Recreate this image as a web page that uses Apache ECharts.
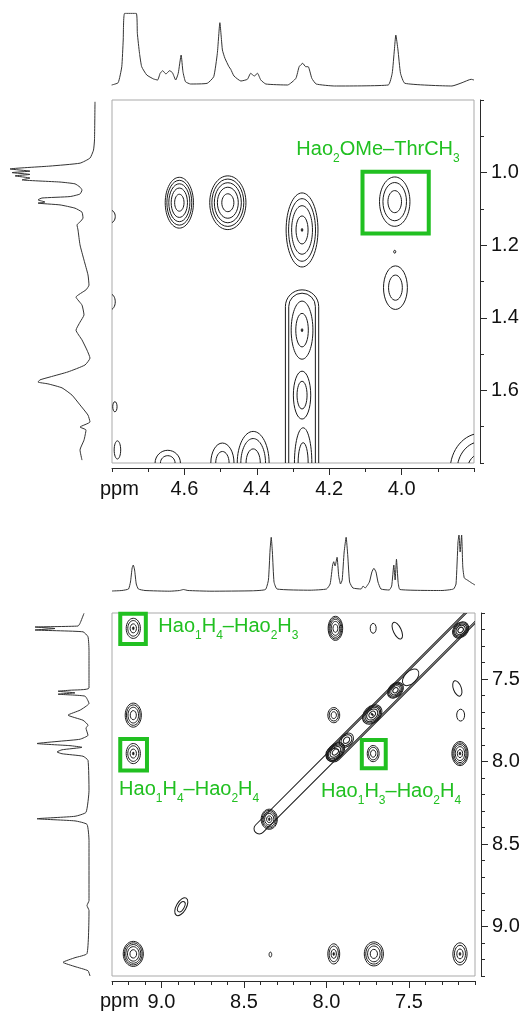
<!DOCTYPE html>
<html><head><meta charset="utf-8">
<script src="https://cdn.jsdelivr.net/npm/echarts@6/dist/echarts.min.js"></script>
<style>html,body{margin:0;padding:0;background:#fff}#c{width:524px;height:1012px}</style>
</head><body><div id="c"></div>
<script>
// ================= DATA =================
// Panel A (upper): F2 (x) 4.8 -> 3.8 ppm, F1 (y) 0.8 -> 1.8 ppm
const topXRange = [3.8, 4.8];
const topYRange = [0.8, 1.8];
const topXTickLabels = [4.0, 4.2, 4.4, 4.6];
const topYTickLabels = [1.0, 1.2, 1.4, 1.6];
// Panel B (lower): both axes 7.1 -> 9.3 ppm
const botRange = [7.1, 9.3];
const botTickLabels = [7.5, 8.0, 8.5, 9.0];

// 1D projections: [ppm, intensity]
const topProjF2 = [[4.801,3],[4.783,5.3],[4.773,21.3],[4.769,48],[4.765,74.7],[4.733,74.7],[4.730,54.7],[4.724,34.7],[4.718,21.3],[4.704,13],[4.685,9],[4.674,8],[4.667,14.7],[4.660,17.3],[4.651,14],[4.641,17.3],[4.633,15.3],[4.624,8],[4.617,14.7],[4.609,33],[4.604,16.3],[4.597,6.3],[4.583,4],[4.537,4.7],[4.519,11.3],[4.509,34.7],[4.502,65.3],[4.495,38],[4.488,29.7],[4.477,21.3],[4.472,18.7],[4.463,12],[4.444,7],[4.426,8.7],[4.417,14.7],[4.407,12],[4.398,14.7],[4.389,8],[4.375,4],[4.315,3],[4.292,9.7],[4.283,21.3],[4.273,24.7],[4.265,21.3],[4.258,21.3],[4.248,9.7],[4.236,4],[4.185,2],[4.037,3],[4.026,14.7],[4.020,38],[4.016,53],[4.010,38],[4.003,14.7],[3.991,4.7],[3.861,2],[3.833,5.3],[3.808,8.7],[3.800,8]];
const topProjF1 = [[0.805,1],[0.910,1.5],[0.938,2.5],[0.960,6],[0.974,16],[0.982,46],[0.990,86],[0.996,66],[1.000,84],[1.005,66],[1.009,81],[1.015,66],[1.020,74],[1.026,36],[1.031,21],[1.040,16],[1.048,14],[1.059,16],[1.066,26],[1.070,54],[1.075,58],[1.081,51],[1.084,58],[1.089,36],[1.098,21],[1.109,14],[1.125,13],[1.136,16],[1.144,19],[1.158,18],[1.199,16],[1.241,12],[1.282,8],[1.310,7],[1.323,10],[1.343,20],[1.365,14],[1.392,12],[1.412,16],[1.434,20],[1.461,14],[1.489,9],[1.511,6],[1.530,11],[1.549,28],[1.563,46],[1.571,56],[1.577,58],[1.582,48],[1.593,34],[1.613,24],[1.640,16],[1.668,8],[1.687,6],[1.701,16],[1.709,10],[1.737,12],[1.764,16],[1.792,14]];
const botProjF2 = [[9.30,1],[9.24,1.5],[9.20,3],[9.188,10],[9.178,24],[9.171,27],[9.163,22],[9.153,8],[9.14,3],[9.10,1.5],[8.95,0.8],[8.89,1.5],[8.867,2.5],[8.84,1.5],[8.70,0.8],[8.45,1.2],[8.37,2.5],[8.352,12],[8.342,42],[8.335,54.7],[8.328,40],[8.318,10],[8.30,3],[8.10,1.8],[8.00,3],[7.978,8],[7.963,27],[7.956,30.3],[7.948,26],[7.936,34.7],[7.926,16],[7.915,8],[7.905,12],[7.893,40],[7.881,54.7],[7.871,36],[7.86,10],[7.84,4],[7.79,3],[7.778,6],[7.766,4],[7.74,10],[7.725,20],[7.713,23.7],[7.70,20],[7.688,10],[7.67,3],[7.62,2],[7.605,6],[7.592,27],[7.584,12],[7.576,32.7],[7.566,10],[7.555,2.5],[7.30,1.5],[7.23,3],[7.215,8],[7.203,50],[7.197,57],[7.190,40],[7.181,57],[7.174,25],[7.165,14],[7.147,12],[7.12,9],[7.10,7]];
const botProjF1 = [[7.102,8],[7.163,12],[7.179,14],[7.185,57],[7.194,37],[7.203,57],[7.214,9],[7.244,4],[7.325,3],[7.555,3],[7.568,22],[7.574,34],[7.584,17],[7.592,34],[7.604,7],[7.648,3],[7.689,12],[7.719,24],[7.750,9],[7.780,4],[7.798,6],[7.841,4],[7.865,12],[7.877,32],[7.891,55],[7.904,22],[7.914,10],[7.929,30],[7.942,35],[7.953,30],[7.968,9],[7.993,4],[8.175,3],[8.308,6],[8.332,17],[8.347,55],[8.360,17],[8.381,5],[8.478,3],[8.843,3],[8.873,5],[8.903,3],[9.164,5],[9.189,17],[9.217,29],[9.243,17],[9.268,4],[9.300,2]];

// Cross peaks: [x ppm, y ppm, half-width x ppm, half-width y ppm, contour levels, tilt deg, centre dot]
const topPeaks = [
  [4.614,1.083,0.039,0.070,5,0,0],
  [4.480,1.083,0.050,0.074,5,0,0],
  [4.275,1.158,0.044,0.102,4,0,1],
  [4.019,1.080,0.042,0.068,3,0,0],
  [4.019,1.218,0.003,0.004,1,0,0],
  [4.017,1.317,0.033,0.060,2,0,0],
  [4.805,1.121,0.014,0.018,1,0,0],
  [4.805,1.356,0.014,0.022,1,0,0],
  [4.792,1.645,0.006,0.014,1,0,0],
  [4.785,1.764,0.009,0.025,1,0,0],
  [4.275,1.434,0.030,0.080,2,0,1],
  [4.275,1.613,0.024,0.066,2,0,0],
  [4.272,1.800,0.024,0.097,2,0,0],
  [4.646,1.800,0.035,0.035,2,0,0],
  [4.495,1.800,0.032,0.055,2,0,0],
  [4.410,1.800,0.044,0.087,3,0,0],
  [3.780,1.820,0.086,0.102,3,0,0]
];
// Elongated ridges: [x1, y1, x2, y2, half-width ppm, levels]
const topRidges = [[4.275,1.323,4.275,1.90,0.046,2]];

const botPeaks = [
  [9.171,7.193,0.043,0.061,3,0,1],
  [9.171,7.719,0.049,0.073,4,0,0],
  [9.171,7.952,0.043,0.061,3,0,1],
  [9.171,9.166,0.061,0.076,5,0,0],
  [7.946,7.193,0.044,0.073,5,0,0],
  [7.717,7.193,0.018,0.030,1,0,0],
  [7.571,7.207,0.024,0.055,1,25,0],
  [7.207,7.557,0.024,0.049,1,20,0],
  [7.187,7.719,0.024,0.036,1,0,0],
  [7.191,7.952,0.049,0.073,5,0,1],
  [7.956,7.719,0.036,0.046,3,0,0],
  [7.717,7.952,0.036,0.049,3,0,0],
  [7.956,9.166,0.036,0.061,3,0,1],
  [7.713,9.166,0.058,0.073,4,0,0],
  [7.191,9.166,0.043,0.067,3,0,1],
  [8.340,9.170,0.008,0.015,1,0,0],
  [8.880,8.880,0.030,0.060,2,-30,0],
  [8.347,8.350,0.049,0.061,5,0,1],
  [7.946,7.942,0.067,0.043,5,45,0],
  [7.879,7.871,0.049,0.036,3,45,0],
  [7.723,7.715,0.067,0.049,5,45,1],
  [7.582,7.568,0.055,0.040,5,45,0],
  [7.490,7.490,0.061,0.036,1,45,0],
  [7.187,7.203,0.055,0.043,5,45,0]
];
const botRidges = [
  [8.43,8.43,7.93,7.93,0.032,1],
  [7.99,7.99,6.98,6.98,0.045,2]
];

// Highlight boxes: [x1, y1, x2, y2] ppm
const topBoxes = [[4.108,0.998,3.925,1.168]];
const botBoxes = [[9.250,7.104,9.095,7.288],[9.250,7.863,9.088,8.055],[7.786,7.869,7.641,8.041]];
// Labels: text (_n = subscript), left x ppm, cap-top y ppm
const topLabelText = ['Hao_2OMe\u2013ThrCH_3'];
const topLabelPos = [[4.288,0.915]];
const botLabelText = ['Hao_1H_4\u2013Hao_2H_3','Hao_1H_4\u2013Hao_2H_4','Hao_1H_3\u2013Hao_2H_4'];
const botLabelPos = [[9.013,7.132],[9.251,8.124],[8.027,8.132]];

// ================= RENDER =================
const FONT = '"Liberation Sans", Arial, Helvetica, sans-serif';
const INK = '#1a1a1a';
const AXIS_INK = '#2a2a2a';
const GREEN = '#21c021';

function levelFactor(k, n) { return n > 1 ? Math.sqrt(1 - k / (n - 0.5)) : 1; }

function renderPeak(params, api) {
  const c = api.coord([api.value(0), api.value(1)]);
  const s = api.size([api.value(2), api.value(3)]);
  const n = api.value(4), rot = api.value(5) * Math.PI / 180, dot = api.value(6);
  const children = [];
  for (let k = 0; k < n; k++) {
    const f = levelFactor(k, n);
    children.push({type:'ellipse', shape:{cx:0, cy:0, rx:Math.max(s[0]*f,0.6), ry:Math.max(s[1]*f,0.8)},
      style:{fill:'none', stroke:INK, lineWidth:1}});
  }
  if (dot) children.push({type:'ellipse', shape:{cx:0, cy:0, rx:0.9, ry:1.5}, style:{fill:INK, stroke:INK, lineWidth:0.6}});
  return {type:'group', x:c[0], y:c[1], rotation:rot, children};
}

function renderRidge(params, api) {
  const p1 = api.coord([api.value(0), api.value(1)]);
  const p2 = api.coord([api.value(2), api.value(3)]);
  const hw = api.size([api.value(4), api.value(4)])[0];
  const n = api.value(5);
  const dx = p2[0] - p1[0], dy = p2[1] - p1[1];
  const len = Math.hypot(dx, dy);
  const ang = Math.atan2(-dy, dx);
  const children = [];
  for (let k = 0; k < n; k++) {
    const w = hw * (1 - 0.2 * k);
    const L = len - 2 * (hw - w);
    children.push({type:'rect', shape:{x:-L/2, y:-w, width:L, height:2*w, r:w},
      style:{fill:'none', stroke:INK, lineWidth:1}});
  }
  return {type:'group', x:(p1[0]+p2[0])/2, y:(p1[1]+p2[1])/2, rotation:ang, children};
}

function renderBox(params, api) {
  const p1 = api.coord([api.value(0), api.value(1)]);
  const p2 = api.coord([api.value(2), api.value(3)]);
  return {type:'rect', shape:{x:Math.min(p1[0],p2[0]), y:Math.min(p1[1],p2[1]),
    width:Math.abs(p2[0]-p1[0]), height:Math.abs(p2[1]-p1[1])},
    style:{fill:'none', stroke:GREEN, lineWidth:4}};
}

function toRich(str) {
  return ('{m|' + str.replace(/_(\d)/g, '}{s|$1}{m|') + '}').replace(/\{m\|\}/g, '');
}
function makeLabelRenderer(texts) {
  return function (params, api) {
    const p = api.coord([api.value(0), api.value(1)]);
    return {type:'text', x:p[0] - 1, y:p[1] - 2,
      style:{text: toRich(texts[params.dataIndex]), fill:GREEN, align:'left', verticalAlign:'top',
        rich:{
          m:{fontSize:20, fontFamily:FONT, lineHeight:20, verticalAlign:'top', fill:GREEN},
          s:{fontSize:12, fontFamily:FONT, lineHeight:12, verticalAlign:'top', padding:[13,0,0,0], fill:GREEN}
        }}};
  };
}

function axisPair(gridIndex, range, labels, position, offset) {
  const common = {type:'value', gridIndex, min:range[0], max:range[1], inverse:true, position, offset,
    splitLine:{show:false}, axisPointer:{show:false}};
  const minor = Object.assign({}, common, {interval:0.1,
    axisLine:{show:true, lineStyle:{color:AXIS_INK, width:1}},
    axisTick:{show:true, inside:false, length:4, lineStyle:{color:AXIS_INK}},
    axisLabel:{show:false}});
  const major = Object.assign({}, common, {interval:0.1,
    axisLine:{show:false},
    axisTick:{show:true, inside:false, length:7, customValues:labels, lineStyle:{color:AXIS_INK}},
    axisLabel:{show:true, customValues:labels, formatter:v => Number(v).toFixed(1),
      fontSize:20, fontFamily:FONT, color:'#111', margin:11}});
  return [minor, major];
}
function hiddenAxis(gridIndex, range, inverse) {
  return {type:'value', gridIndex, min:range[0], max:range[1], inverse, show:false, splitLine:{show:false}};
}

const grids = [
  {left:112, top:100, width:362, height:363, show:true, borderColor:'#a9a9a9', borderWidth:1, backgroundColor:'transparent'},
  {left:112, top:13, width:362, height:75},
  {left:0, top:100, width:96, height:363},
  {left:112, top:613, width:363, height:363, show:true, borderColor:'#a9a9a9', borderWidth:1, backgroundColor:'transparent'},
  {left:112, top:530, width:363, height:62},
  {left:0, top:613, width:92, height:363}
].map(g => Object.assign({containLabel:false, outerBoundsMode:'none'}, g));

const xAxes = [].concat(
  axisPair(0, topXRange, topXTickLabels, 'bottom', 5),   // 0,1
  [hiddenAxis(1, topXRange, true)],                      // 2
  [hiddenAxis(2, [0, 96], true)],                        // 3
  axisPair(3, botRange, botTickLabels, 'bottom', 5),     // 4,5
  [hiddenAxis(4, botRange, true)],                       // 6
  [hiddenAxis(5, [0, 92], true)]                         // 7
);
const yAxes = [].concat(
  axisPair(0, topYRange, topYTickLabels, 'right', 6),    // 0,1
  [hiddenAxis(1, [0, 75], false)],                       // 2
  [hiddenAxis(2, topYRange, true)],                      // 3
  axisPair(3, botRange, botTickLabels, 'right', 6),      // 4,5
  [hiddenAxis(4, [0, 62], false)],                       // 6
  [hiddenAxis(5, botRange, true)]                        // 7
);

function traceSeries(xi, yi, data) {
  return {type:'line', xAxisIndex:xi, yAxisIndex:yi, data, symbol:'none', showSymbol:false, smooth:0.15,
    clip:true, silent:true, lineStyle:{color:'#333', width:1}};
}
function customSeries(xi, yi, data, renderItem, clip, encode) {
  return {type:'custom', xAxisIndex:xi, yAxisIndex:yi, data, renderItem, clip, silent:true, encode};
}

const series = [
  traceSeries(2, 2, topProjF2),
  traceSeries(3, 3, topProjF1.map(p => [p[1], p[0]])),
  traceSeries(6, 6, botProjF2),
  traceSeries(7, 7, botProjF1.map(p => [p[1], p[0]])),
  customSeries(0, 0, topRidges, renderRidge, true, {x:[0,2], y:[1,3]}),
  customSeries(0, 0, topPeaks, renderPeak, true, {x:0, y:1}),
  customSeries(4, 4, botRidges, renderRidge, true, {x:[0,2], y:[1,3]}),
  customSeries(4, 4, botPeaks, renderPeak, true, {x:0, y:1}),
  customSeries(0, 0, topBoxes, renderBox, false, {x:[0,2], y:[1,3]}),
  customSeries(4, 4, botBoxes, renderBox, false, {x:[0,2], y:[1,3]}),
  customSeries(0, 0, topLabelPos, makeLabelRenderer(topLabelText), false, {x:0, y:1}),
  customSeries(4, 4, botLabelPos, makeLabelRenderer(botLabelText), false, {x:0, y:1})
];

const chart = echarts.init(document.getElementById('c'), null, {renderer:'canvas'});
chart.setOption({
  animation:false,
  backgroundColor:'#ffffff',
  grid:grids,
  xAxis:xAxes,
  yAxis:yAxes,
  graphic:[
    {type:'text', left:100, top:479, style:{text:'ppm', fontSize:20, fontFamily:FONT, fill:'#111'}},
    {type:'text', left:100, top:991, style:{text:'ppm', fontSize:20, fontFamily:FONT, fill:'#111'}}
  ],
  series
});
</script>
</body></html>
